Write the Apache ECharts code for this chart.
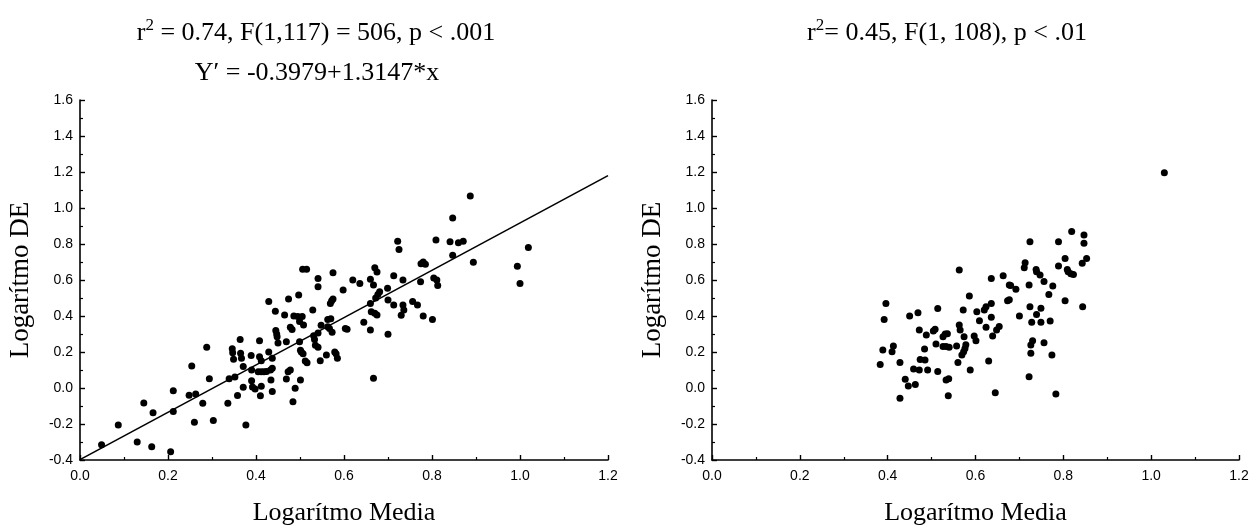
<!DOCTYPE html>
<html>
<head>
<meta charset="utf-8">
<script src="https://cdn.jsdelivr.net/npm/echarts@6/dist/echarts.min.js"></script>
<style>
  html, body { margin: 0; padding: 0; background: #fff; }
  #chart { width: 1260px; height: 532px; }
</style>
</head>
<body>
<div id="chart"></div>
<script>
// Log(mean) vs log(DE), first sample
const leftPoints = [
  [0.049, -0.315], [0.087, -0.206], [0.130, -0.300], [0.145, -0.083], [0.163, -0.326],
  [0.166, -0.137], [0.206, -0.354], [0.212, -0.015], [0.212, -0.130], [0.254, 0.122],
  [0.248, -0.040], [0.263, -0.033], [0.260, -0.190], [0.279, -0.085], [0.288, 0.226],
  [0.294, 0.052], [0.303, -0.180], [0.336, -0.085], [0.339, 0.052], [0.346, 0.218],
  [0.347, 0.196], [0.349, 0.160], [0.352, 0.061], [0.358, -0.041], [0.364, 0.270],
  [0.365, 0.193], [0.367, 0.165], [0.371, 0.120], [0.371, 0.004], [0.377, -0.206],
  [0.389, 0.181], [0.390, 0.100], [0.390, 0.040], [0.392, 0.005], [0.398, -0.006],
  [0.408, 0.263], [0.408, 0.174], [0.412, 0.152], [0.405, 0.090], [0.412, 0.090],
  [0.418, 0.090], [0.424, 0.092], [0.410, -0.043], [0.412, 0.010], [0.429, 0.481],
  [0.429, 0.200], [0.434, 0.044], [0.437, -0.020], [0.433, 0.100], [0.437, 0.110],
  [0.437, 0.165], [0.444, 0.426], [0.445, 0.320], [0.447, 0.300], [0.448, 0.285],
  [0.450, 0.250], [0.469, 0.257], [0.465, 0.406], [0.469, 0.050], [0.474, 0.494],
  [0.473, 0.090], [0.478, 0.100], [0.478, 0.337], [0.482, 0.325], [0.484, -0.076],
  [0.486, 0.400], [0.489, -0.002], [0.497, 0.517], [0.495, 0.397], [0.499, 0.370],
  [0.499, 0.257], [0.501, 0.210], [0.503, 0.200], [0.507, 0.190], [0.501, 0.044],
  [0.505, 0.397], [0.508, 0.350], [0.512, 0.150], [0.516, 0.140], [0.529, 0.433],
  [0.531, 0.290], [0.533, 0.270], [0.535, 0.237], [0.541, 0.609], [0.541, 0.563],
  [0.546, 0.152], [0.548, 0.348], [0.560, 0.183], [0.563, 0.340], [0.567, 0.330],
  [0.569, 0.470], [0.572, 0.485], [0.575, 0.495], [0.573, 0.310], [0.575, 0.640],
  [0.579, 0.200], [0.582, 0.190], [0.585, 0.165], [0.598, 0.544], [0.603, 0.330],
  [0.607, 0.326], [0.506, 0.660], [0.515, 0.660], [0.541, 0.306], [0.541, 0.226],
  [0.563, 0.381], [0.570, 0.385], [0.620, 0.600], [0.636, 0.581], [0.645, 0.365],
  [0.660, 0.470], [0.660, 0.322], [0.660, 0.604], [0.662, 0.424], [0.667, 0.572],
  [0.667, 0.054], [0.670, 0.668], [0.670, 0.415], [0.672, 0.500], [0.675, 0.644],
  [0.675, 0.406], [0.677, 0.520], [0.681, 0.535], [0.699, 0.554], [0.700, 0.489],
  [0.700, 0.298], [0.713, 0.624], [0.713, 0.461], [0.722, 0.815], [0.725, 0.770],
  [0.734, 0.600], [0.734, 0.461], [0.736, 0.433], [0.730, 0.404], [0.756, 0.480],
  [0.767, 0.461], [0.774, 0.590], [0.775, 0.690], [0.780, 0.700], [0.785, 0.688],
  [0.780, 0.400], [0.801, 0.381], [0.804, 0.611], [0.811, 0.600], [0.813, 0.570],
  [0.809, 0.822], [0.841, 0.813], [0.847, 0.944], [0.847, 0.737], [0.860, 0.807],
  [0.871, 0.815], [0.887, 1.067], [0.894, 0.698], [0.994, 0.676], [1.000, 0.581],
  [1.019, 0.780]
];

// Log(mean) vs log(DE), second sample
const rightPoints = [
  [0.383, 0.131], [0.389, 0.211], [0.392, 0.381], [0.396, 0.469], [0.410, 0.202],
  [0.413, 0.233], [0.428, 0.141], [0.428, -0.057], [0.440, 0.048], [0.447, 0.011],
  [0.450, 0.400], [0.459, 0.106], [0.463, 0.020], [0.469, 0.418], [0.472, 0.322],
  [0.474, 0.159], [0.472, 0.100], [0.484, 0.217], [0.485, 0.156], [0.488, 0.294],
  [0.491, 0.100], [0.504, 0.317], [0.508, 0.326], [0.510, 0.244], [0.514, 0.441],
  [0.514, 0.091], [0.526, 0.285], [0.531, 0.300], [0.536, 0.302], [0.526, 0.230],
  [0.533, 0.230], [0.540, 0.226], [0.533, 0.044], [0.539, 0.052], [0.538, -0.043],
  [0.557, 0.233], [0.560, 0.141], [0.563, 0.350], [0.565, 0.322], [0.563, 0.655],
  [0.569, 0.183], [0.572, 0.433], [0.574, 0.285], [0.576, 0.220], [0.578, 0.240],
  [0.586, 0.511], [0.588, 0.100], [0.573, 0.202], [0.597, 0.289], [0.601, 0.263],
  [0.603, 0.424], [0.609, 0.374], [0.620, 0.433], [0.624, 0.452], [0.624, 0.337],
  [0.630, 0.150], [0.636, 0.609], [0.636, 0.470], [0.636, 0.393], [0.639, 0.289],
  [0.645, -0.026], [0.648, 0.322], [0.654, 0.341], [0.663, 0.624], [0.673, 0.485],
  [0.677, 0.490], [0.677, 0.572], [0.680, 0.570], [0.692, 0.548], [0.700, 0.400],
  [0.722, 0.572], [0.724, 0.452], [0.728, 0.365], [0.730, 0.263], [0.726, 0.239],
  [0.726, 0.193], [0.722, 0.063], [0.739, 0.409], [0.749, 0.443], [0.749, 0.365],
  [0.739, 0.646], [0.747, 0.628], [0.756, 0.591], [0.756, 0.252], [0.767, 0.520],
  [0.770, 0.372], [0.776, 0.567], [0.774, 0.183], [0.783, -0.033], [0.804, 0.485],
  [0.811, 0.646], [0.817, 0.635], [0.823, 0.630], [0.844, 0.452], [1.030, 1.196],
  [0.819, 0.869], [0.847, 0.850], [0.847, 0.804], [0.724, 0.813], [0.789, 0.813],
  [0.804, 0.720], [0.789, 0.678], [0.853, 0.720], [0.843, 0.693], [0.713, 0.696],
  [0.711, 0.668], [0.738, 0.659], [0.809, 0.659]
];

// Fitted line for the first sample: Y' = a + b*x
const fitIntercept = -0.3979;
const fitSlope = 1.3147;

const xTickLabels = ['0.0', '0.2', '0.4', '0.6', '0.8', '1.0', '1.2'];
const yTickLabels = ['-0.4', '-0.2', '0.0', '0.2', '0.4', '0.6', '0.8', '1.0', '1.2', '1.4', '1.6'];

const xMin = parseFloat(xTickLabels[0]);
const xMax = parseFloat(xTickLabels[xTickLabels.length - 1]);
const yMin = parseFloat(yTickLabels[0]);
const yMax = parseFloat(yTickLabels[yTickLabels.length - 1]);
const step = 0.2;

function tickText(list, v) {
  const s = (Math.round(v * 10) / 10).toFixed(1);
  return list.indexOf(s) >= 0 ? s : '';
}

const serif = '"Liberation Serif", "DejaVu Serif", serif';
const sans = '"Liberation Sans", Arial, sans-serif';
const ink = '#000';

function xAxisDef(gi) {
  return {
    type: 'value', gridIndex: gi, min: xMin, max: xMax, interval: step,
    name: 'Logarítmo Media', nameLocation: 'middle', nameGap: 40,
    nameTextStyle: { fontFamily: serif, fontSize: 26, color: ink },
    axisLine: { show: true, onZero: false, lineStyle: { color: ink, width: 1.6 } },
    axisTick: { show: true, inside: true, length: 5, lineStyle: { color: ink, width: 1.4 } },
    minorTick: { show: true, splitNumber: 2, length: 3, lineStyle: { color: ink, width: 1.2 } },
    splitLine: { show: false },
    axisLabel: { color: ink, fontFamily: sans, fontSize: 14, margin: 9,
      formatter: v => tickText(xTickLabels, v) }
  };
}

function yAxisDef(gi) {
  return {
    type: 'value', gridIndex: gi, min: yMin, max: yMax, interval: step,
    name: 'Logarítmo DE', nameLocation: 'middle', nameGap: 46,
    nameTextStyle: { fontFamily: serif, fontSize: 27, color: ink },
    axisLine: { show: true, onZero: false, lineStyle: { color: ink, width: 1.6 } },
    axisTick: { show: true, inside: true, length: 5, lineStyle: { color: ink, width: 1.4 } },
    minorTick: { show: true, splitNumber: 2, length: 3, lineStyle: { color: ink, width: 1.2 } },
    splitLine: { show: false },
    axisLabel: { color: ink, fontFamily: sans, fontSize: 14, margin: 7,
      formatter: v => tickText(yTickLabels, v) }
  };
}

const titleRich = {
  t: { fontFamily: serif, fontSize: 26, fontWeight: 'normal', color: ink, lineHeight: 32 },
  s: { fontFamily: serif, fontSize: 17, fontWeight: 'normal', color: ink, verticalAlign: 'top', lineHeight: 32, padding: [0, 0, 12, 0] }
};

const chart = echarts.init(document.getElementById('chart'), null, { renderer: 'canvas' });

chart.setOption({
  backgroundColor: '#fff',
  animation: false,
  title: [
    { text: '{t|r}{s|2}{t| = 0.74, F(1,117) = 506, p < .001}', left: 311, top: 12, textAlign: 'center',
      textStyle: { fontWeight: 'normal', rich: titleRich } },
    { text: 'Y′ = -0.3979+1.3147*x', left: 312, top: 55, textAlign: 'center',
      textStyle: { fontFamily: serif, fontSize: 26, fontWeight: 'normal', color: ink } },
    { text: '{t|r}{s|2}{t|= 0.45, F(1, 108), p < .01}', left: 942, top: 12, textAlign: 'center',
      textStyle: { fontWeight: 'normal', rich: titleRich } }
  ],
  grid: [
    { left: 80, top: 100, width: 528, height: 360 },
    { left: 712, top: 100, width: 527, height: 360 }
  ],
  xAxis: [xAxisDef(0), xAxisDef(1)],
  yAxis: [yAxisDef(0), yAxisDef(1)],
  series: [
    {
      type: 'line', xAxisIndex: 0, yAxisIndex: 0, symbol: 'none', silent: true,
      lineStyle: { color: ink, width: 1.6 },
      data: [[xMin, fitIntercept + fitSlope * xMin], [xMax, fitIntercept + fitSlope * xMax]]
    },
    {
      type: 'scatter', xAxisIndex: 0, yAxisIndex: 0, symbol: 'circle', symbolSize: 7,
      itemStyle: { color: ink, opacity: 1 }, data: leftPoints
    },
    {
      type: 'scatter', xAxisIndex: 1, yAxisIndex: 1, symbol: 'circle', symbolSize: 7,
      itemStyle: { color: ink, opacity: 1 }, data: rightPoints
    }
  ]
});
</script>
</body>
</html>
